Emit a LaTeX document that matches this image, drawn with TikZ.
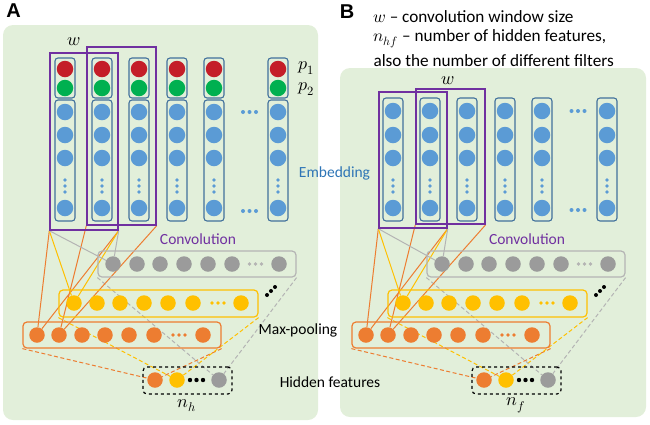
\documentclass[tikz,border=0pt]{standalone}
\usepackage{fontspec}
\usepackage{unicode-math}
\setmathfont{Latin Modern Math}
\setmainfont{Carlito}
\newfontfamily\labfont{Liberation Sans}
\usetikzlibrary{backgrounds}
\definecolor{bgG}{RGB}{226,239,218}
\definecolor{boxB}{RGB}{65,113,156}
\definecolor{cBlue}{RGB}{91,155,213}
\definecolor{cRed}{RGB}{196,30,40}
\definecolor{cGreen}{RGB}{0,176,80}
\definecolor{cPurple}{RGB}{112,48,160}
\definecolor{cGray}{RGB}{155,155,155}
\definecolor{cGrayL}{RGB}{180,180,180}
\definecolor{cYel}{RGB}{255,192,0}
\definecolor{cOr}{RGB}{237,125,49}
\definecolor{cTxtB}{RGB}{46,117,182}

\newcommand\lowerpart[3]{%
\begin{scope}[xshift=#2]
  \node[rowbox, draw=cGrayL, minimum width=198, minimum height=26] (#1grect) at (197,264) {};
  \node[rowbox, draw=cYel, minimum width=199, minimum height=27] (#1yrect) at (158.5,303.5) {};
  \node[rowbox, draw=cOr, minimum width=198, minimum height=26] (#1orect) at (122,335) {};
  \foreach \i/\x in {1/113,2/137,3/160,4/184,5/208,6/232,7/279}
    \node[rball, fill=cGray] (#1g\i) at (\x,264) {};
  \foreach \x in {249.5,255.5,261.5} \fill[cGrayL] (\x,264) circle (1.9);
  \foreach \i/\x in {1/74,2/97,3/120,4/144,5/168,6/193,7/241}
    \node[rball, fill=cYel] (#1y\i) at (\x,303) {};
  \foreach \x in {212,218,224} \fill[cYel] (\x,303) circle (1.9);
  \foreach \i/\x in {1/37,2/59,3/82,4/105,5/129,6/154,7/203}
    \node[rball, fill=cOr] (#1o\i) at (\x,335) {};
  \foreach \x in {173,179,185} \fill[cOr] (\x,335) circle (1.9);
  \foreach \x/\y in {267/295,271/291,275/287} \fill[black] (\x,\y) circle (2);
  \node[rowbox, draw=black, dashed, minimum width=89, minimum height=27] (#1hbox) at (187.5,380.5) {};
  \node[rball, fill=cOr] (#1h1) at (155,380) {};
  \node[rball, fill=cYel] (#1h2) at (177,380) {};
  \node[rball, fill=cGray] (#1h3) at (219,380) {};
  \foreach \x in {190,196.5,203} \fill[black] (\x,380) circle (2.2);
  \node[text=cPurple] (#1conv) at (198,239) {Convolution};
  \node[mathlab] (#1nlab) at (187,405.5) {#3};
  \begin{scope}[on background layer]
    \draw[dashline, cOr] (#1orect.south west) -- (#1h1) (#1orect.south east) -- (#1h1);
    \draw[dashline, cYel] (#1yrect.south west) -- (#1h2) (#1yrect.south east) -- (#1h2);
    \draw[dashline, cGrayL] (#1grect.south west) -- (#1h3) (#1grect.south east) -- (#1h3);
  \end{scope}
\end{scope}}

\newcommand\convlines[1]{%
\begin{scope}[on background layer]
  \draw[conn, cOr] (#1w1.south west) -- (#1o1) (#1w1.south east) -- (#1o1)
                   (#1w2.south west) -- (#1o2) (#1w2.south east) -- (#1o2);
  \draw[conn, cYel] (#1w1.south west) -- (#1y1) (#1w1.south east) -- (#1y1);
  \draw[conn, cGrayL] (#1w1.south west) -- (#1g1) (#1w1.south east) -- (#1g1);
\end{scope}}

\begin{document}
\begin{tikzpicture}[x=1pt,y=-1pt,
  every node/.style={font=\fontsize{15.5}{18}\selectfont},
  panel/.style={fill=bgG, rounded corners=10pt, draw=none},
  colbox/.style={draw=boxB, line width=1.1pt, rounded corners=3pt, minimum width=20, inner sep=0},
  eball/.style={circle, inner sep=0, minimum size=16.5, draw=none},
  rball/.style={circle, inner sep=0, minimum size=15.5, draw=none},
  rowbox/.style={rectangle, rounded corners=4pt, line width=1.2pt, inner sep=0},
  win/.style={draw=cPurple, line width=1.4pt, inner sep=0},
  conn/.style={line width=1pt},
  dashline/.style={line width=1pt, dash pattern=on 4pt off 2.5pt},
  mathlab/.style={font=\fontsize{18}{20}\selectfont},
  legend/.style={anchor=west, font=\fontsize{17.2}{20}\selectfont}
]
\useasboundingbox (0,0) rectangle (650,424);
\begin{scope}[on background layer]
  \fill[panel] (3,25) rectangle (318,420);
  \fill[panel] (340,68) rectangle (646,417);
\end{scope}

% ---------- panel A, upper part
\node[font=\labfont\bfseries\fontsize{20}{22}\selectfont] (labA) at (13.5,10.5) {A};
\foreach \i/\x in {1/65,2/102,3/139,4/177,5/214,6/278} {
  \node[colbox, minimum height=40] (At\i) at (\x,78) {};
  \node[colbox, minimum height=121] (Ab\i) at (\x,160.5) {};
  \node[eball, fill=cRed] (Ar\i) at (\x,69) {};
  \node[eball, fill=cGreen] (Ag\i) at (\x,88) {};
  \foreach \j/\y in {1/112,2/135,3/158,4/208}
    \node[eball, fill=cBlue] (Ae\i-\j) at (\x,\y) {};
  \foreach \y in {180,186,192} \fill[cBlue] (\x,\y) circle (1.8);
}
\foreach \x in {243,249.5,256} {\fill[cBlue] (\x,112) circle (2); \fill[cBlue] (\x,211) circle (2);}
\node[win, minimum width=68, minimum height=177] (Aw1) at (84,141.5) {};
\node[win, minimum width=69, minimum height=178] (Aw2) at (121.5,136) {};
\node[mathlab] (Awlab) at (74,42) {$w$};
\node[mathlab] (p1) at (306,68) {$p_1$};
\node[mathlab] (p2) at (306,89) {$p_2$};
\node[text=cTxtB] (emb) at (334.5,173) {Embedding};

\lowerpart{A}{0}{$n_h$}
\convlines{A}

\node (maxp) at (298,330) {Max-pooling};
\node (hidf) at (330,382) {Hidden features};

% ---------- panel B
\node[font=\labfont\bfseries\fontsize{20}{22}\selectfont] (labB) at (347,12) {B};
\node[legend] (leg1) at (370,17) {$w$ -- convolution window size};
\node[legend] (leg2) at (370,39) {$n_{hf}$ -- number of hidden features,};
\node[legend] (leg3) at (370,61) {also the number of different filters};
\foreach \i/\x in {1/393,2/430,3/467,4/505,5/542,6/607} {
  \node[colbox, minimum height=123] (Bb\i) at (\x,159.5) {};
  \foreach \j/\y in {1/111,2/135,3/158,4/208}
    \node[eball, fill=cBlue] (Be\i-\j) at (\x,\y) {};
  \foreach \y in {180,186,192} \fill[cBlue] (\x,\y) circle (1.8);
}
\foreach \x in {571.5,578,584.5} {\fill[cBlue] (\x,111) circle (2); \fill[cBlue] (\x,210) circle (2);}
\node[win, minimum width=68, minimum height=136] (Bw1) at (413,160) {};
\node[win, minimum width=69, minimum height=135] (Bw2) at (450.5,156.5) {};
\node[mathlab] (Bwlab) at (448,81) {$w$};

\lowerpart{B}{329}{$n_f$}
\convlines{B}
\end{tikzpicture}
\end{document}
